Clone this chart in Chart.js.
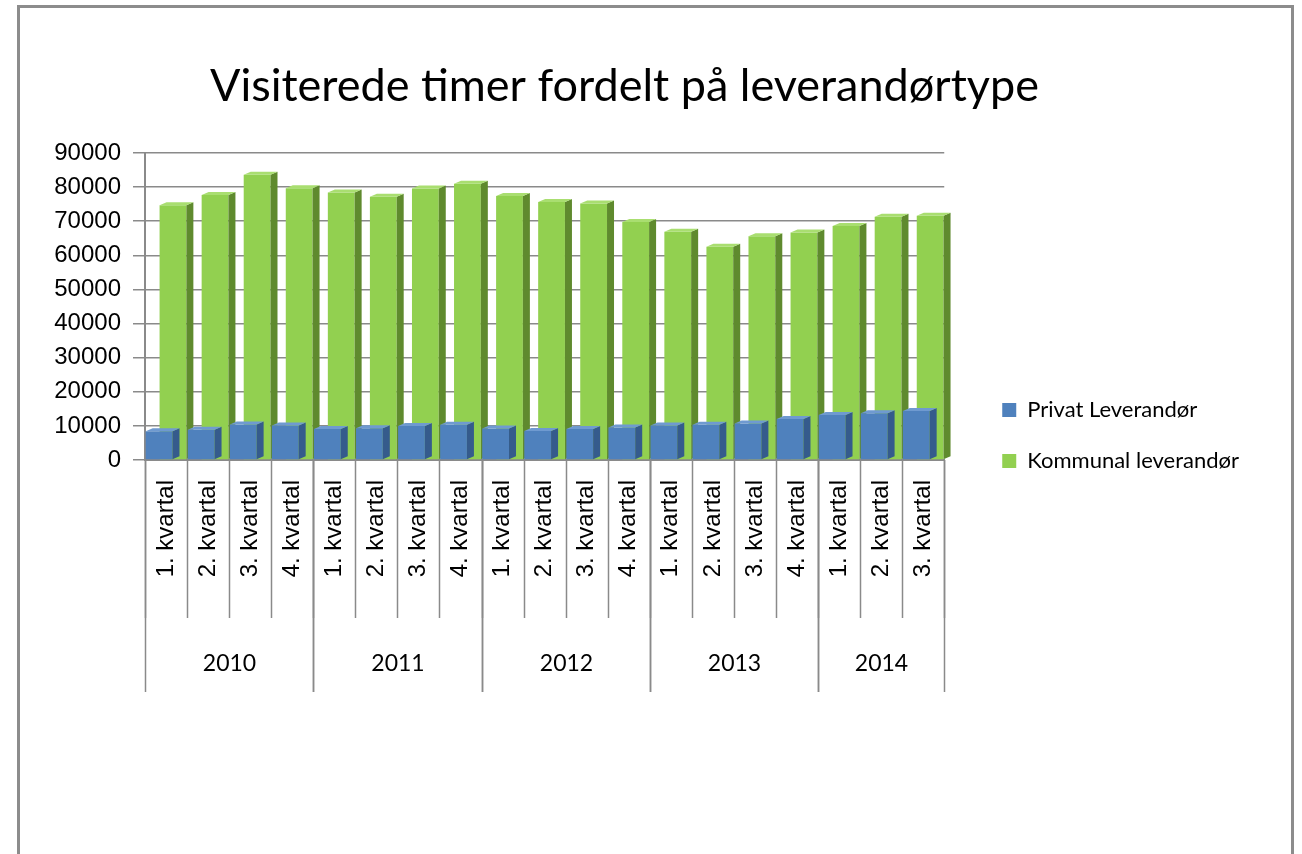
<!DOCTYPE html>
<html lang="no">
<head>
<meta charset="UTF-8">
<title>Visiterede timer fordelt på leverandørtype</title>
<script src="https://cdn.jsdelivr.net/npm/chart.js"></script>
<style>
    html, body { margin: 0; padding: 0; background: #fff; }
    canvas { position: absolute; left: 0; top: 0; }
    #ramme {
        position: absolute; left: 17px; top: 5px; width: 1277px; height: 870px;
        border: 3px solid #8c8c8c; box-sizing: border-box; pointer-events: none;
    }
</style>
</head>
<body>
<canvas id="graf" width="1302" height="854"></canvas>
<div id="ramme"></div>
<script>
    // Kategorier: kvartal, gruppert per år
    const kvartaler = [
        '1. kvartal', '2. kvartal', '3. kvartal', '4. kvartal',
        '1. kvartal', '2. kvartal', '3. kvartal', '4. kvartal',
        '1. kvartal', '2. kvartal', '3. kvartal', '4. kvartal',
        '1. kvartal', '2. kvartal', '3. kvartal', '4. kvartal',
        '1. kvartal', '2. kvartal', '3. kvartal'
    ];
    const aarstall = ['2010', '2011', '2012', '2013', '2014'];
    const kvartalPerAar = [4, 4, 4, 4, 3];

    // Visiterede timer (lest av figuren)
    const privat = [8400, 8900, 10400, 10100, 9100, 9300, 10000, 10300, 9200, 8500,
                    9100, 9500, 10100, 10300, 10700, 12000, 13200, 13700, 14400];
    const kommunal = [74700, 77700, 83600, 79700, 78400, 77200, 79600, 81000, 77400, 75600,
                      75200, 69800, 66900, 62500, 65600, 66700, 68600, 71300, 71600];

    const GRAA = '#8a8a8a';

    // tegner side- og toppflate slik at søylene ser romlige ut
    const dybde = {
        id: 'dybde',
        afterDatasetDraw(chart, args) {
            const ds = chart.data.datasets[args.index];
            const ctx = chart.ctx;
            const dx = 7, dy = 3;
            ctx.save();
            args.meta.data.forEach(bar => {
                const { x, y, base, width } = bar.getProps(['x', 'y', 'base', 'width'], true);
                const l = x - width / 2, r = x + width / 2;
                ctx.fillStyle = ds.sideFarge;
                ctx.beginPath();
                ctx.moveTo(r, y); ctx.lineTo(r + dx, y - dy);
                ctx.lineTo(r + dx, base - dy); ctx.lineTo(r, base);
                ctx.closePath(); ctx.fill();
                ctx.fillStyle = ds.toppFarge;
                ctx.beginPath();
                ctx.moveTo(l, y); ctx.lineTo(l + dx, y - dy);
                ctx.lineTo(r + dx, y - dy); ctx.lineTo(r, y);
                ctx.closePath(); ctx.fill();
            });
            ctx.restore();
        }
    };

    // skillelinjer og årstall under kategoriaksen
    const kategoriRamme = {
        id: 'kategoriRamme',
        afterDraw(chart) {
            const xs = chart.scales.x;
            const ctx = chart.ctx;
            const y0 = chart.chartArea.bottom;
            ctx.save();
            ctx.strokeStyle = GRAA;
            ctx.lineWidth = 1.5;
            for (let i = 0; i <= kvartaler.length; i++) {
                const px = Math.round(xs.getPixelForValue(i - 0.5)) + 0.5;
                ctx.beginPath(); ctx.moveTo(px, y0); ctx.lineTo(px, y0 + 158); ctx.stroke();
            }
            ctx.fillStyle = '#000';
            ctx.font = '23px Lato';
            ctx.textAlign = 'center';
            ctx.textBaseline = 'middle';
            let start = 0;
            aarstall.forEach((aar, j) => {
                const slutt = start + kvartalPerAar[j];
                const xa = Math.round(xs.getPixelForValue(start - 0.5)) + 0.5;
                const xb = Math.round(xs.getPixelForValue(slutt - 0.5)) + 0.5;
                ctx.beginPath(); ctx.moveTo(xa, y0); ctx.lineTo(xa, y0 + 232); ctx.stroke();
                ctx.beginPath(); ctx.moveTo(xb, y0); ctx.lineTo(xb, y0 + 232); ctx.stroke();
                ctx.fillText(aar, (xa + xb) / 2, y0 + 204);
                start = slutt;
            });
            ctx.restore();
        }
    };

    new Chart(document.getElementById('graf'), {
        type: 'bar',
        data: {
            labels: kvartaler,
            datasets: [{
                label: 'Privat Leverandør',
                data: privat,
                backgroundColor: '#4f81bd',
                sideFarge: '#355b8c',
                toppFarge: '#6f9ad0'
            }, {
                label: 'Kommunal leverandør',
                data: kommunal,
                backgroundColor: '#92d050',
                sideFarge: '#5f8a2e',
                toppFarge: '#a9de70'
            }]
        },
        options: {
            responsive: false,
            animation: false,
            categoryPercentage: 0.66,
            barPercentage: 1.93,
            layout: { padding: { top: 40, left: 0, right: 53, bottom: 23 } },
            plugins: {
                title: {
                    display: true,
                    text: 'Visiterede timer fordelt på leverandørtype',
                    color: '#000',
                    font: { family: 'Lato', size: 45, weight: 'normal' },
                    padding: { top: 19, bottom: 40 }
                },
                legend: {
                    position: 'right',
                    maxWidth: 340,
                    labels: {
                        color: '#000',
                        font: { family: 'Lato', size: 22 },
                        boxWidth: 14,
                        boxHeight: 14,
                        padding: 29
                    }
                },
                tooltip: { enabled: false }
            },
            scales: {
                x: {
                    grid: { display: false, drawTicks: false },
                    border: { display: true, color: GRAA, width: 2 },
                    ticks: {
                        color: '#000',
                        font: { family: 'Liberation Sans', size: 24 },
                        minRotation: 90,
                        maxRotation: 90,
                        padding: 20,
                        autoSkip: false
                    },
                    afterFit(s) { s.height = 371; }
                },
                y: {
                    min: 0,
                    max: 90000,
                    ticks: {
                        stepSize: 10000,
                        color: '#000',
                        font: { family: 'Liberation Sans', size: 24 },
                        padding: 12,
                        callback: v => String(v)
                    },
                    grid: { color: GRAA, lineWidth: 1.5, tickLength: 12 },
                    border: { display: true, color: GRAA, width: 2 },
                    afterFit(s) { s.width = 145; }
                },
                hoyre: {
                    position: 'right',
                    grid: { display: false },
                    border: { display: false },
                    ticks: { display: false },
                    afterFit(s) { s.width = 29; }
                }
            }
        },
        plugins: [dybde, kategoriRamme]
    });
</script>
</body>
</html>
